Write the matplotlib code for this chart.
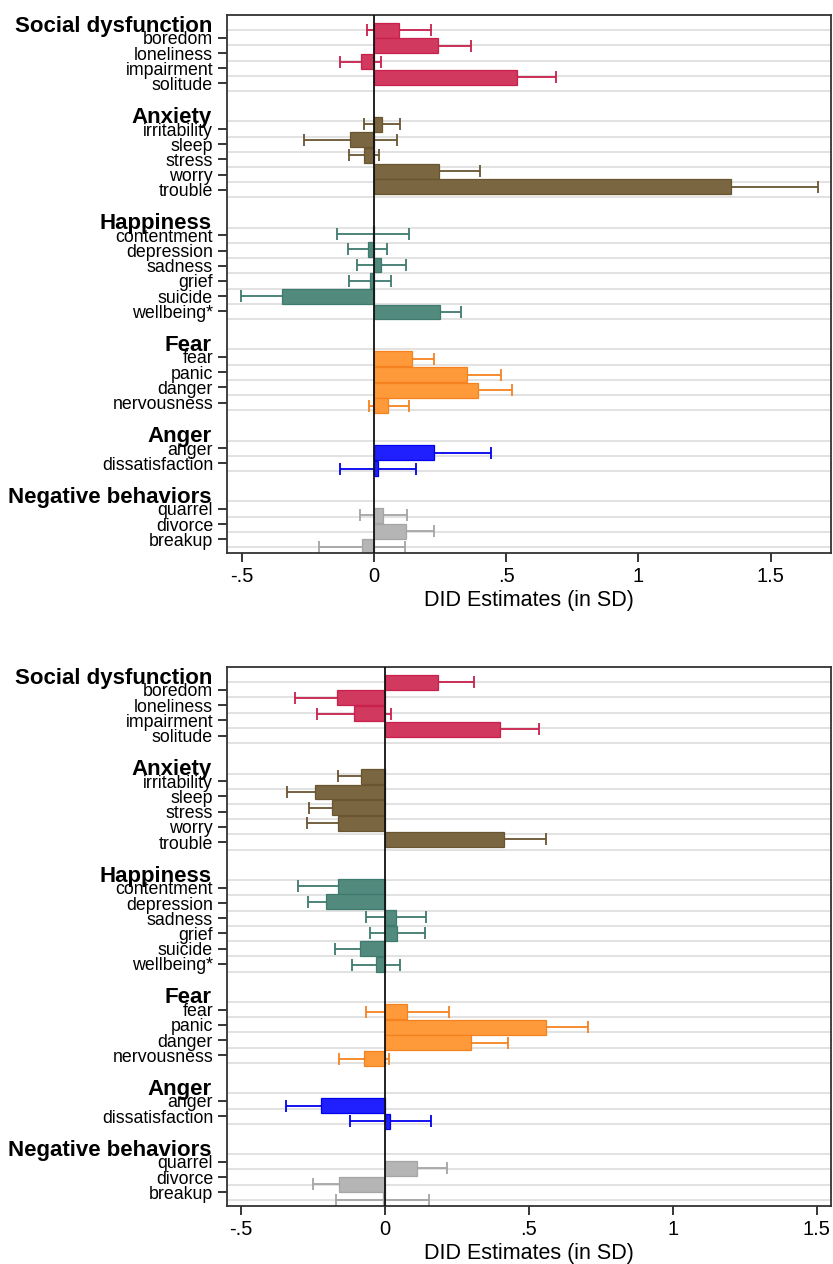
import matplotlib
matplotlib.use('Agg')
import matplotlib.pyplot as plt
import matplotlib.transforms as mtransforms

plt.rcParams['font.family'] = ['Liberation Sans', 'DejaVu Sans']

# 그룹 / 항목
groups = ['Social dysfunction', 'Anxiety', 'Happiness', 'Fear', 'Anger', 'Negative behaviors']
group_items = [
    ['boredom', 'loneliness', 'impairment', 'solitude'],
    ['irritability', 'sleep', 'stress', 'worry', 'trouble'],
    ['contentment', 'depression', 'sadness', 'grief', 'suicide', 'wellbeing*'],
    ['fear', 'panic', 'danger', 'nervousness'],
    ['anger', 'dissatisfaction'],
    ['quarrel', 'divorce', 'breakup'],
]
fill_colors = ['#d1395f', '#7a6641', '#528a7e', '#ff9a3a', '#2020ff', '#b5b5b5']
edge_colors = ['#c9204c', '#6a5531', '#3f7a6e', '#f5821f', '#0000ee', '#a5a5a5']

# 상단 패널 (DID 추정치, 95% CI)
est_top = [0.095, 0.244, -0.048, 0.541,
           0.031, -0.089, -0.037, 0.246, 1.352,
           -0.004, -0.022, 0.027, -0.013, -0.347, 0.249,
           0.146, 0.352, 0.395, 0.055,
           0.228, 0.014,
           0.035, 0.121, -0.043]
lo_top = [-0.025, 0.121, -0.127, 0.392,
          -0.037, -0.265, -0.093, 0.092, 1.026,
          -0.140, -0.096, -0.063, -0.092, -0.503, 0.168,
          0.064, 0.224, 0.269, -0.018,
          0.012, -0.127,
          -0.053, 0.014, -0.208]
hi_top = [0.215, 0.367, 0.029, 0.690,
          0.100, 0.086, 0.018, 0.400, 1.678,
          0.133, 0.050, 0.120, 0.064, -0.191, 0.330,
          0.228, 0.480, 0.521, 0.132,
          0.444, 0.158,
          0.126, 0.228, 0.118]

# 하단 패널
est_bot = [0.184, -0.167, -0.107, 0.399,
           -0.084, -0.243, -0.185, -0.162, 0.413,
           -0.164, -0.205, 0.038, 0.043, -0.087, -0.030,
           0.078, 0.561, 0.299, -0.071,
           -0.223, 0.019,
           0.113, -0.158, -0.008]
lo_bot = [0.058, -0.313, -0.237, 0.263,
          -0.164, -0.339, -0.264, -0.269, 0.268,
          -0.303, -0.268, -0.066, -0.052, -0.172, -0.113,
          -0.066, 0.416, 0.170, -0.159,
          -0.343, -0.121,
          0.009, -0.249, -0.170]
hi_bot = [0.310, -0.021, 0.023, 0.535,
          -0.004, -0.147, -0.106, -0.055, 0.558,
          -0.025, -0.142, 0.143, 0.138, -0.002, 0.053,
          0.223, 0.706, 0.428, 0.015,
          -0.103, 0.161,
          0.217, -0.067, 0.154]

x_ticks = [-0.5, 0, 0.5, 1, 1.5]
x_tick_labels = ['-.5', '0', '.5', '1', '1.5']
x_label = 'DID Estimates (in SD)'


def draw_panel(ax, est, lo, hi, xlim):
    trans = mtransforms.blended_transform_factory(ax.transAxes, ax.transData)
    g = 0
    idx = 0
    tick_pos, tick_lab = [], []
    for gi, (name, items) in enumerate(zip(groups, group_items)):
        for k in range(len(items) + 1):
            ax.axhline(g + k, color='#e2e2e2', lw=1.4, zorder=0)
        ax.annotate(name, xy=(0, g + 0.1), xycoords=trans, xytext=(-10.8, 0),
                    textcoords='offset points', ha='right', va='baseline',
                    fontsize=16, fontweight='bold')
        for k, item in enumerate(items):
            yb = (g + k) * 1.03  # 막대 위치는 라벨보다 조금씩 밀려 있음
            ax.barh(yb, est[idx], height=0.98, color=fill_colors[gi],
                    edgecolor=edge_colors[gi], linewidth=0.9, zorder=2)
            ax.errorbar(est[idx], yb, xerr=[[est[idx] - lo[idx]], [hi[idx] - est[idx]]],
                        fmt='none', ecolor=edge_colors[gi], elinewidth=1.3,
                        capsize=4.3, capthick=1.3, zorder=1)
            tick_pos.append(g + k + 0.5)
            tick_lab.append(item)
            idx += 1
        g += len(items) + 2

    ax.axvline(0, color='#111111', lw=1.3, zorder=4)
    ax.set_xlim(*xlim)
    ax.set_ylim(34.4, -1.0)
    ax.set_yticks(tick_pos)
    ax.set_yticklabels(tick_lab, fontsize=12.8)
    ax.set_xticks(x_ticks)
    ax.set_xticklabels(x_tick_labels, fontsize=14.5)
    ax.set_xlabel(x_label, fontsize=15.5, labelpad=3)
    ax.tick_params(axis='both', direction='out', length=6.5, width=1.1, pad=3.5)
    for sp in ax.spines.values():
        sp.set_linewidth(1.3)
        sp.set_color('#333333')


def main():
    fig = plt.figure(figsize=(8.33, 12.64), dpi=100)
    ax1 = fig.add_axes([0.2725, 0.5625, 0.7250, 0.4256])
    ax2 = fig.add_axes([0.2725, 0.0459, 0.7250, 0.4264])

    draw_panel(ax1, est_top, lo_top, hi_top, (-0.555, 1.728))
    draw_panel(ax2, est_bot, lo_bot, hi_bot, (-0.548, 1.549))

    fig.savefig('out.png', dpi=100, facecolor='white')


if __name__ == '__main__':
    main()
